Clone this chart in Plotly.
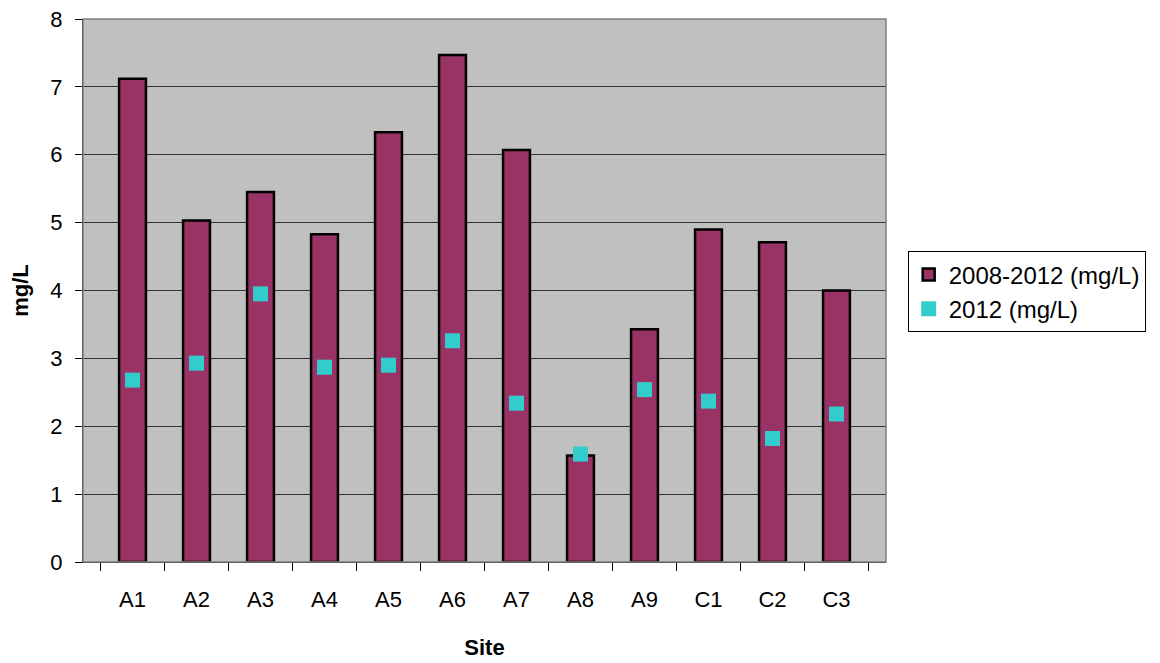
import plotly.graph_objects as go

sites = ["A1", "A2", "A3", "A4", "A5", "A6", "A7", "A8", "A9", "C1", "C2", "C3"]
avg_2008_2012 = [7.12, 5.03, 5.45, 4.83, 6.33, 7.47, 6.07, 1.57, 3.43, 4.90, 4.71, 4.00]
val_2012 = [2.68, 2.93, 3.95, 2.87, 2.90, 3.26, 2.34, 1.59, 2.54, 2.37, 1.82, 2.18]

FAM = "Arial, Liberation Sans, sans-serif"
font = dict(family=FAM, size=22, color="black")

fig = go.Figure()
fig.add_trace(go.Bar(
    x=sites, y=avg_2008_2012, name="2008-2012 (mg/L)",
    marker=dict(color="#993366", line=dict(color="black", width=2.5)),
))
fig.add_trace(go.Scatter(
    x=sites, y=val_2012, name="2012 (mg/L)", mode="markers",
    marker=dict(symbol="square", size=15, color="#33CCCC", line=dict(width=0)),
))

fig.update_layout(
    width=1152, height=655,
    margin=dict(l=75, r=274, t=11, b=101),
    paper_bgcolor="white", plot_bgcolor="#C0C0C0",
    font=font,
    bargap=0.58,
    showlegend=True,
    legend=dict(x=1.027, y=0.572, xanchor="left", yanchor="top",
                bordercolor="black", borderwidth=1, bgcolor="white",
                font=dict(family=FAM, size=24),
                itemwidth=30),
    xaxis=dict(
        title=dict(text="<b>Site</b>", standoff=28, font=dict(size=22)),
        tickson="boundaries", ticks="outside", ticklen=8, tickcolor="black",
        showline=True, linecolor="black", linewidth=1,
        showgrid=False, tickfont=dict(size=22), ticklabelstandoff=18,
        automargin=False,
    ),
    yaxis=dict(
        title=dict(text="<b>mg/L</b>", standoff=18, font=dict(size=22)),
        range=[0, 8], dtick=1, ticks="outside", ticklen=7, tickcolor="black",
        showline=True, linecolor="black", linewidth=1,
        showgrid=True, gridcolor="#333333", gridwidth=1,
        zeroline=False, tickfont=dict(size=22), ticklabelstandoff=8,
        ticklabeloverflow="allow", automargin=False,
    ),
    shapes=[dict(type="rect", xref="paper", yref="paper", x0=0, x1=1, y0=0, y1=1,
                 line=dict(color="#808080", width=1.5), layer="above")],
)

fig.write_html("out.html")
